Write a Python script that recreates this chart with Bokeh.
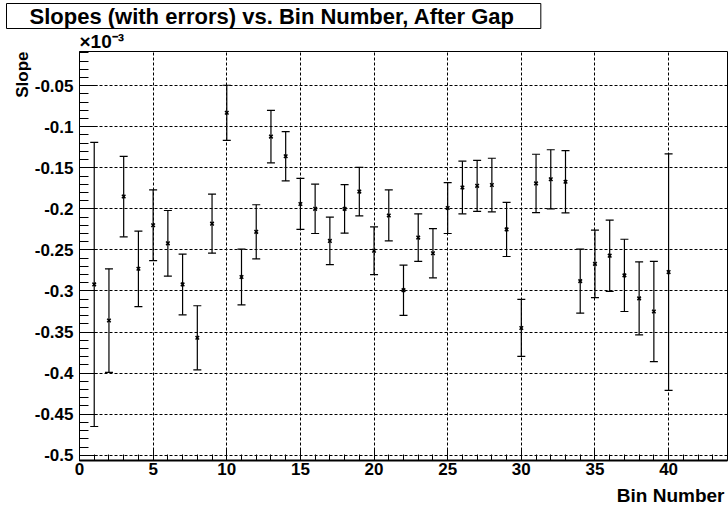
from bokeh.plotting import figure
from bokeh.models import ColumnDataSource, Whisker, TeeHead, Title, FixedTicker, Range1d
from bokeh.embed import file_html
from bokeh.resources import INLINE

# ---- data (slope values in units of 1e-3) ----
bins = list(range(1, 41))
slope_e3 = [-0.292, -0.336, -0.185, -0.273, -0.220, -0.242, -0.292, -0.357, -0.218, -0.083,
            -0.283, -0.228, -0.112, -0.136, -0.194, -0.200, -0.239, -0.200, -0.179, -0.251,
            -0.208, -0.299, -0.235, -0.254, -0.199, -0.174, -0.172, -0.171, -0.225, -0.345,
            -0.169, -0.164, -0.167, -0.288, -0.267, -0.257, -0.281, -0.309, -0.325, -0.277]
slope_err_e3 = [0.173, 0.063, 0.049, 0.046, 0.043, 0.040, 0.037, 0.039, 0.036, 0.0335,
                0.034, 0.033, 0.032, 0.030, 0.031, 0.030, 0.029, 0.0296, 0.0296, 0.029,
                0.031, 0.0306, 0.029, 0.030, 0.031, 0.032, 0.031, 0.0326, 0.033, 0.0347,
                0.0355, 0.036, 0.038, 0.039, 0.041, 0.0434, 0.044, 0.0444, 0.061, 0.144]

x_ticks = [0, 5, 10, 15, 20, 25, 30, 35, 40]
x_tick_labels = ["0", "5", "10", "15", "20", "25", "30", "35", "40"]
y_ticks = [-0.5, -0.45, -0.4, -0.35, -0.3, -0.25, -0.2, -0.15, -0.1, -0.05]
y_tick_labels = ["-0.5", "-0.45", "-0.4", "-0.35", "-0.3", "-0.25", "-0.2", "-0.15", "-0.1", "-0.05"]
x_minor = list(range(0, 45))
y_minor = [round(-0.5 + 0.01 * i, 2) for i in range(50)]

title_text = "Slopes (with errors) vs. Bin Number, After Gap"
x_title = "Bin Number"
y_title = "Slope"
y_scale_text = "\u00d710\u207b\u00b3"

lower = [v - e for v, e in zip(slope_e3, slope_err_e3)]
upper = [v + e for v, e in zip(slope_e3, slope_err_e3)]
src = ColumnDataSource(dict(bin=bins, slope=slope_e3, lower=lower, upper=upper))

FONT = "Liberation Sans"

p = figure(width=728, height=513, output_backend="svg", toolbar_location=None,
           x_range=Range1d(0, 44), y_range=Range1d(-0.5064, -0.0084),
           min_border_left=79, min_border_right=1, min_border_top=51, min_border_bottom=53)
p.title = None
p.background_fill_color = "white"
p.border_fill_color = "white"
p.outline_line_color = "black"
p.outline_line_width = 1

p.xaxis.ticker = FixedTicker(ticks=x_ticks, minor_ticks=x_minor)
p.yaxis.ticker = FixedTicker(ticks=y_ticks, minor_ticks=y_minor)
p.xaxis.major_label_overrides = dict(zip(x_ticks, x_tick_labels))
p.yaxis.major_label_overrides = dict(zip(y_ticks, y_tick_labels))

for ax in (p.xaxis, p.yaxis):
    ax.major_label_text_font = FONT
    ax.major_label_text_font_style = "bold"
    ax.major_label_text_font_size = "17px"
    ax.major_label_text_color = "black"
    ax.axis_line_color = "black"
    ax.major_tick_line_color = "black"
    ax.minor_tick_line_color = "black"
    ax.major_tick_out = 0
    ax.minor_tick_out = 0

p.xaxis.axis_line_width = 2
p.yaxis.axis_line_width = 1
p.xaxis.major_tick_in = 12
p.xaxis.minor_tick_in = 6
p.yaxis.major_tick_in = 18
p.yaxis.minor_tick_in = 9
p.xaxis.major_label_standoff = 2
p.yaxis.major_label_standoff = 6

p.grid.grid_line_color = "black"
p.grid.grid_line_dash = "3 2"
p.grid.grid_line_width = 1

whisk = Whisker(source=src, base="bin", upper="upper", lower="lower",
                line_color="black", line_width=1.2,
                upper_head=TeeHead(size=8, line_color="black", line_width=1.2),
                lower_head=TeeHead(size=8, line_color="black", line_width=1.2))
p.add_layout(whisk)
p.scatter("bin", "slope", source=src, marker="x", size=5, line_color="black", line_width=1.5)

# exponent label, just above the frame (added first => closest to frame)
p.add_layout(Title(text=y_scale_text, align="left", offset=0, standoff=0,
                   text_font=FONT, text_font_style="bold", text_font_size="19px",
                   text_color="black"), "above")
# main title in a box (padding: left, right, top, bottom)
p.add_layout(Title(text=title_text, align="left", offset=-73, standoff=0,
                   text_font=FONT, text_font_style="bold", text_font_size="22px",
                   text_color="black", background_fill_color="white",
                   border_line_color="black", border_line_width=1,
                   padding=(23, 26, 0, 0)), "above")
# axis titles
p.add_layout(Title(text=y_title, align="right", offset=0, standoff=0,
                   text_font=FONT, text_font_style="bold", text_font_size="17px",
                   text_color="black"), "left")
p.add_layout(Title(text=x_title, align="right", offset=3, standoff=10,
                   text_font=FONT, text_font_style="bold", text_font_size="19px",
                   text_color="black"), "below")

open("out.html", "w").write(file_html(p, INLINE))
